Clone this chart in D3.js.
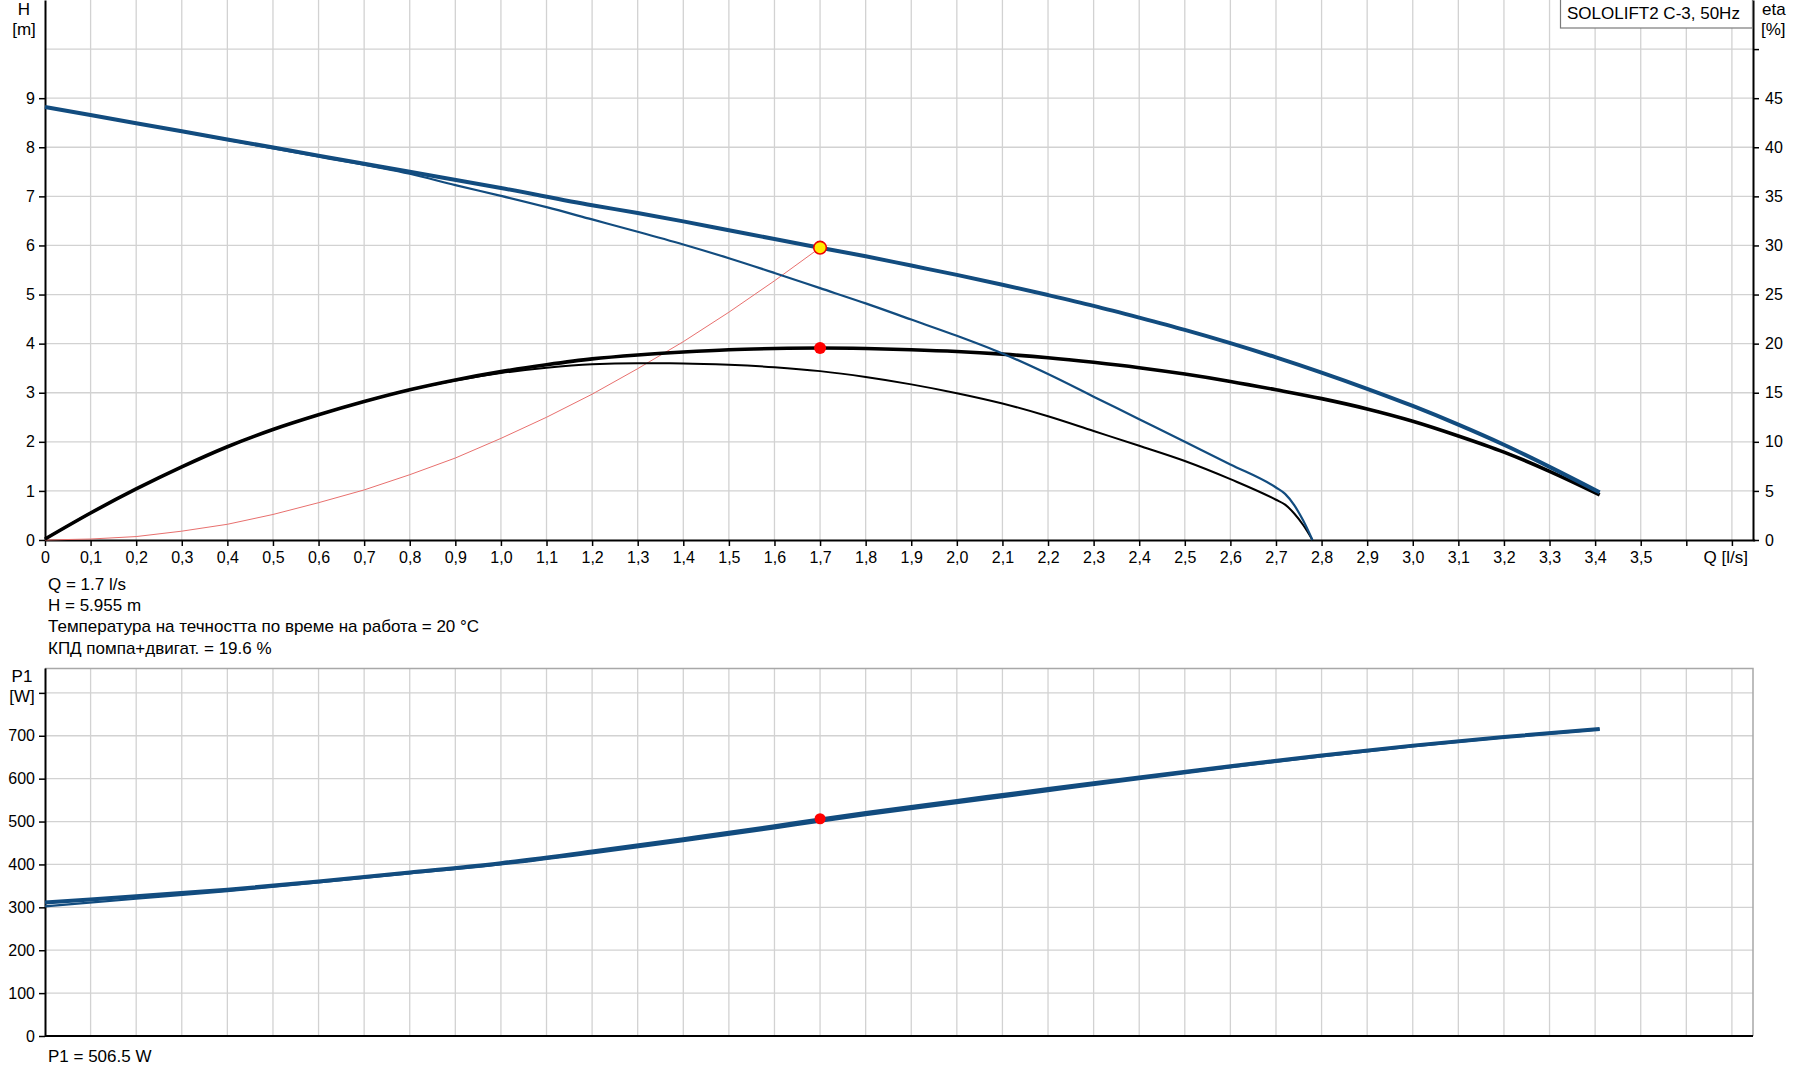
<!DOCTYPE html>
<html><head><meta charset="utf-8">
<script src="https://cdn.jsdelivr.net/npm/d3@7/dist/d3.min.js"></script>
<style>body{margin:0;background:#fff}svg{display:block;font-family:"Liberation Sans",Arial,sans-serif}</style>
</head><body><svg id="c" width="1795" height="1081"></svg>
<script>
// ---------- DATA ----------
// Q-H curve (thick, current speed)
const qHThick = [0, 0.2, 0.4, 0.6, 0.8, 1.0, 1.2, 1.3, 1.4, 1.5, 1.6, 1.7, 1.8, 1.9, 2.0, 2.1, 2.2, 2.3, 2.4, 2.5, 2.6, 2.7, 2.8, 2.9, 3.0, 3.1, 3.2, 3.3, 3.41];
const hThick  = [8.82, 8.49, 8.16, 7.83, 7.50, 7.17, 6.82, 6.66, 6.49, 6.31, 6.13, 5.955, 5.78, 5.59, 5.40, 5.20, 4.99, 4.77, 4.53, 4.28, 4.01, 3.72, 3.41, 3.08, 2.73, 2.35, 1.94, 1.49, 0.97];
// Q-H curve (thin)
const qHThin = [0, 0.2, 0.4, 0.6, 0.8, 0.9, 1.0, 1.1, 1.2, 1.3, 1.4, 1.5, 1.6, 1.7, 1.8, 1.9, 2.0, 2.1, 2.2, 2.3, 2.4, 2.5, 2.6, 2.7, 2.72, 2.74, 2.76, 2.78];
const hThin  = [8.82, 8.49, 8.15, 7.81, 7.46, 7.23, 7.01, 6.78, 6.53, 6.28, 6.02, 5.74, 5.44, 5.13, 4.82, 4.49, 4.16, 3.80, 3.38, 2.92, 2.46, 2.00, 1.54, 1.07, 0.94, 0.71, 0.39, 0];
// Efficiency curve (thick), eta in %
const qEtaThick = [0, 0.1, 0.2, 0.3, 0.4, 0.5, 0.6, 0.7, 0.8, 0.9, 1.0, 1.1, 1.2, 1.3, 1.4, 1.5, 1.6, 1.7, 1.8, 1.9, 2.0, 2.1, 2.2, 2.3, 2.4, 2.5, 2.6, 2.7, 2.8, 2.9, 3.0, 3.1, 3.2, 3.3, 3.41];
const etaThick  = [0.1, 2.75, 5.2, 7.45, 9.5, 11.25, 12.75, 14.1, 15.3, 16.3, 17.15, 17.85, 18.45, 18.85, 19.15, 19.38, 19.5, 19.55, 19.5, 19.38, 19.2, 18.93, 18.57, 18.1, 17.55, 16.9, 16.15, 15.3, 14.4, 13.35, 12.1, 10.6, 8.95, 7.0, 4.6];
// Efficiency curve (thin), eta in %
const qEtaThin = [0, 0.1, 0.2, 0.3, 0.4, 0.5, 0.6, 0.7, 0.8, 0.9, 1.0, 1.1, 1.2, 1.3, 1.4, 1.5, 1.6, 1.7, 1.8, 1.9, 2.0, 2.1, 2.2, 2.3, 2.4, 2.5, 2.6, 2.7, 2.72, 2.74, 2.76, 2.78];
const etaThin  = [0.1, 2.75, 5.2, 7.45, 9.5, 11.25, 12.75, 14.1, 15.3, 16.25, 17.0, 17.55, 17.9, 18.0, 17.98, 17.85, 17.6, 17.2, 16.6, 15.85, 14.95, 13.9, 12.6, 11.1, 9.6, 8.05, 6.2, 4.1, 3.6, 2.7, 1.5, 0];
// System curve
const qSys = [0, 0.1, 0.2, 0.3, 0.4, 0.5, 0.6, 0.7, 0.8, 0.9, 1.0, 1.1, 1.2, 1.3, 1.4, 1.5, 1.6, 1.7];
const hSys = [0, 0.02, 0.07, 0.18, 0.32, 0.52, 0.76, 1.02, 1.33, 1.67, 2.07, 2.50, 2.97, 3.49, 4.04, 4.64, 5.28, 5.955];
// Power P1
const qP = [0, 0.2, 0.4, 0.6, 0.8, 1.0, 1.2, 1.4, 1.6, 1.7, 1.8, 2.0, 2.2, 2.4, 2.6, 2.8, 3.0, 3.2, 3.41];
const p1Thick = [311, 326, 341, 360, 381, 403, 430, 459, 489, 505, 520, 548, 576, 603, 629, 654, 677, 697, 716];
const p1Thin  = [302, 320, 338, 358, 379, 400, 426, 454, 484, 500, 515, 543, 571, 599, 626, 652, 675, 696, 715];
// Duty point
const dutyQ = [1.7], dutyH = [5.955], dutyEta = [19.55], dutyP1 = [506.5];
// Tick labels
const qTickVals = [0,0.1,0.2,0.3,0.4,0.5,0.6,0.7,0.8,0.9,1.0,1.1,1.2,1.3,1.4,1.5,1.6,1.7,1.8,1.9,2.0,2.1,2.2,2.3,2.4,2.5,2.6,2.7,2.8,2.9,3.0,3.1,3.2,3.3,3.4,3.5,3.6,3.7];
const qTickLabels = ["0","0,1","0,2","0,3","0,4","0,5","0,6","0,7","0,8","0,9","1,0","1,1","1,2","1,3","1,4","1,5","1,6","1,7","1,8","1,9","2,0","2,1","2,2","2,3","2,4","2,5","2,6","2,7","2,8","2,9","3,0","3,1","3,2","3,3","3,4","3,5","",""];
const hTicks = [0,1,2,3,4,5,6,7,8,9];
const hGrid = [1,2,3,4,5,6,7,8,9,10];
const etaTicks = [0,5,10,15,20,25,30,35,40,45,50];
const etaLabels = ["0","5","10","15","20","25","30","35","40","45",""];
const pTicks = [0,100,200,300,400,500,600,700,800];
const pLabels = ["0","100","200","300","400","500","600","700",""];
const infoLines = ["Q = 1.7 l/s", "H = 5.955 m", "Температура на течността по време на работа = 20 °C", "КПД помпа+двигат. = 19.6 %"];
const p1Text = "P1 = 506.5 W";
const titleText = "SOLOLIFT2 C-3, 50Hz";

// ---------- LAYOUT ----------
const svg = d3.select("#c");
const L = 45, R = 1753;
const x = d3.scaleLinear().domain([0, 3.75]).range([L, R + 1.7]);
const yH = d3.scaleLinear().domain([0, 11]).range([540, 0]);
const yE = d3.scaleLinear().domain([0, 55]).range([540, 0]);
const yP = d3.scaleLinear().domain([0, 858]).range([1036, 668]);
const BLUE = "#124c7f", GRID = "#d2d2d2";
const FS = 16, FT = 17;

svg.append("rect").attr("width",1795).attr("height",1081).attr("fill","#fff");

function vgrid(y0, y1) {
  svg.append("g").selectAll("line").data(qTickVals.filter(v => v > 0)).join("line")
    .attr("x1", d => x(d)).attr("x2", d => x(d)).attr("y1", y0).attr("y2", y1)
    .attr("stroke", GRID).attr("stroke-width", 1.3);
}
vgrid(0, 540);
svg.append("g").selectAll("line").data(hGrid).join("line")
  .attr("x1", L).attr("x2", R).attr("y1", d => yH(d)).attr("y2", d => yH(d))
  .attr("stroke", GRID).attr("stroke-width", 1.3);
vgrid(668, 1036);
svg.append("g").selectAll("line").data(pTicks.filter(v => v > 0)).join("line")
  .attr("x1", L).attr("x2", R).attr("y1", d => yP(d)).attr("y2", d => yP(d))
  .attr("stroke", GRID).attr("stroke-width", 1.3);
svg.append("path").attr("d", `M${L},668.5H${R}V1036`).attr("fill","none").attr("stroke","#a8a8a8").attr("stroke-width",1.5);

function styleAxis(g) {
  g.select(".domain").attr("stroke","#000").attr("stroke-width",2);
  g.selectAll(".tick line").attr("stroke","#000").attr("stroke-width",1.5);
  g.selectAll(".tick text").attr("fill","#000").style("font-size", FS+"px").style("font-family",'"Liberation Sans",Arial,sans-serif');
}

svg.append("g").attr("transform","translate(0,540)")
  .call(d3.axisBottom(x).tickValues(qTickVals).tickFormat((d,i) => qTickLabels[i]).tickSize(6).tickSizeOuter(0).tickPadding(6))
  .call(styleAxis);
svg.append("g").attr("transform",`translate(${L},0)`)
  .call(d3.axisLeft(yH).tickValues(hTicks).tickFormat(d3.format("d")).tickSize(6).tickSizeOuter(0).tickPadding(4))
  .call(styleAxis);
svg.append("g").attr("transform",`translate(${R},0)`)
  .call(d3.axisRight(yE).tickValues(etaTicks).tickFormat((d,i) => etaLabels[i]).tickSize(6).tickSizeOuter(0).tickPadding(6))
  .call(styleAxis);
svg.append("g").attr("transform",`translate(${L},0)`)
  .call(d3.axisLeft(yP).tickValues(pTicks).tickFormat((d,i) => pLabels[i]).tickSize(6).tickSizeOuter(0).tickPadding(4))
  .call(styleAxis);
svg.append("line").attr("x1",L).attr("x2",R).attr("y1",1036).attr("y2",1036).attr("stroke","#000").attr("stroke-width",2);

function txt(t, xx, yy, anchor, fs) {
  return svg.append("text").attr("x",xx).attr("y",yy).attr("text-anchor",anchor||"start")
    .style("font-size",(fs||FT)+"px").attr("fill","#000").text(t);
}
txt("H", 24, 15, "middle");
txt("[m]", 24, 35, "middle");
txt("eta", 1762, 15);
txt("[%]", 1761, 35);
txt("Q [l/s]", 1748, 563, "end");
txt("P1", 22, 682, "middle");
txt("[W]", 22, 702, "middle");

svg.append("rect").attr("x",1560.5).attr("y",-1).attr("width",192).attr("height",29)
  .attr("fill","#fff").attr("stroke","#7a7a7a").attr("stroke-width",1.2);
txt(titleText, 1567, 19);

infoLines.forEach((t,i) => txt(t, 48, 590 + i*21.2));
txt(p1Text, 48, 1062);

const zip = (a,b) => a.map((v,i) => [v, b[i]]);
function curve(qs, vs, ys, color, w, cv) {
  const ln = d3.line().x(d => x(d[0])).y(d => ys(d[1])).curve(cv || d3.curveMonotoneX);
  svg.append("path").datum(zip(qs, vs)).attr("d", ln).attr("fill","none")
    .attr("stroke", color).attr("stroke-width", w).attr("stroke-linejoin","round");
}
curve(qSys, hSys, yH, "#e8706e", 1, d3.curveLinear);
curve(qEtaThin, etaThin, yE, "#000", 2, d3.curveMonotoneX);
curve(qEtaThick, etaThick, yE, "#000", 3.6, d3.curveMonotoneX);
curve(qHThin, hThin, yH, BLUE, 2.2, d3.curveMonotoneX);
curve(qHThick, hThick, yH, BLUE, 4, d3.curveMonotoneX);
curve(qP, p1Thin, yP, BLUE, 2.2, d3.curveMonotoneX);
curve(qP, p1Thick, yP, BLUE, 4, d3.curveMonotoneX);

svg.append("circle").attr("cx", x(dutyQ[0])).attr("cy", yE(dutyEta[0])).attr("r", 6).attr("fill", "#f00");
svg.append("circle").attr("cx", x(dutyQ[0])).attr("cy", yH(dutyH[0])).attr("r", 6.3)
  .attr("fill", "#ffeb00").attr("stroke", "#e00").attr("stroke-width", 1.6);
svg.append("circle").attr("cx", x(dutyQ[0])).attr("cy", yP(dutyP1[0])).attr("r", 5.5).attr("fill", "#f00");
</script></body></html>
